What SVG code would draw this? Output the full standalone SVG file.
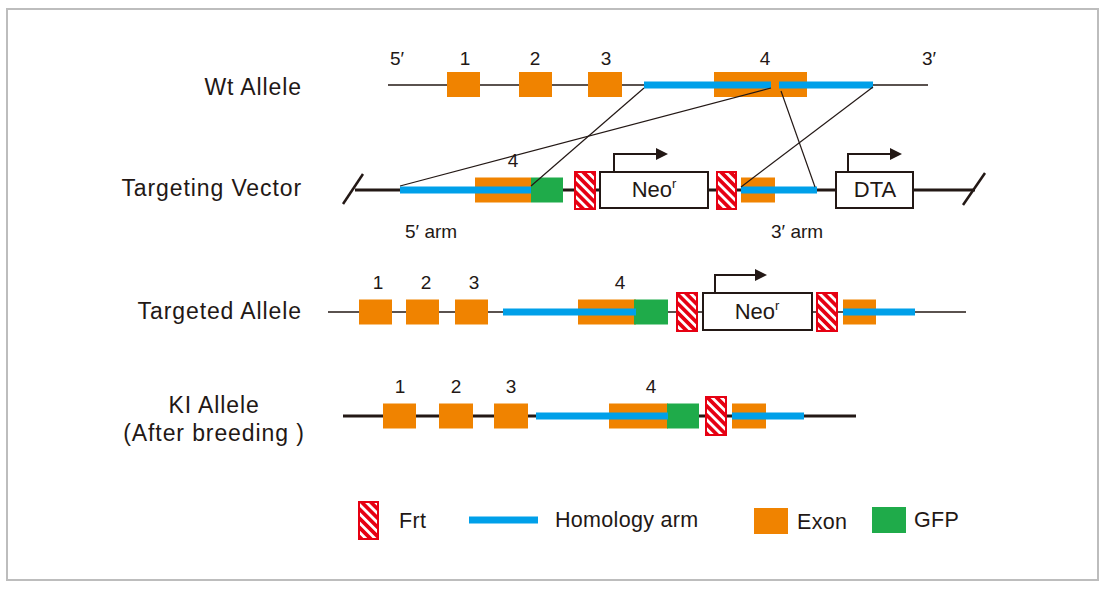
<svg xmlns="http://www.w3.org/2000/svg" width="1107" height="591" viewBox="0 0 1107 591">
<style>
.t{font-family:"Liberation Sans",Arial,sans-serif;fill:#231815}
.lbl{font-size:23px;letter-spacing:0.9px;text-anchor:end}
.num{font-size:19px;text-anchor:middle}
.leg{font-size:21.5px;letter-spacing:0.3px}
.ex{fill:#f08300}
.gfp{fill:#1fab4a}
.arm{fill:#00a0e9}
.frt{fill:url(#hatch);stroke:#e60012;stroke-width:2}
.thin{stroke:#231815;stroke-width:1.5;fill:none}
.thick{stroke:#231815;stroke-width:3;fill:none}
.box{fill:#fff;stroke:#231815;stroke-width:2}
.prom{fill:none;stroke:#231815;stroke-width:2}
.conn{stroke:#231815;stroke-width:1.2;fill:none}
</style>
<defs>
<pattern id="hatch" patternUnits="userSpaceOnUse" width="6.5" height="6.5" patternTransform="rotate(-45)">
<rect width="6.5" height="6.5" fill="#e60012"/>
<rect width="2.8" height="6.5" fill="#fff"/>
</pattern>
</defs>
<rect x="0" y="0" width="1107" height="591" fill="#fff"/>
<rect x="7" y="9" width="1091" height="571" fill="#fff" stroke="#bdbdbd" stroke-width="2"/>

<g id="row-labels">
<text class="t lbl" x="302" y="95">Wt Allele</text>
<text class="t lbl" x="302" y="196">Targeting Vector</text>
<text class="t lbl" x="302" y="319">Targeted Allele</text>
<text class="t lbl" x="214" y="413" style="text-anchor:middle">KI Allele</text>
<text class="t lbl" x="214" y="441" style="text-anchor:middle">(After breeding )</text>
</g>

<g id="wt-allele">
<line class="thin" x1="388" y1="85" x2="928" y2="85"/>
<rect class="ex" x="447" y="72" width="33" height="25"/>
<rect class="ex" x="519" y="72" width="33" height="25"/>
<rect class="ex" x="588" y="72" width="34" height="25"/>
<rect class="ex" x="714" y="72" width="93" height="25"/>
<rect class="arm" x="644" y="81.5" width="127" height="7"/>
<rect class="arm" x="779" y="81.5" width="94" height="7"/>
<text class="t num" x="397" y="65">5′</text>
<text class="t num" x="465" y="65">1</text>
<text class="t num" x="535" y="65">2</text>
<text class="t num" x="606" y="65">3</text>
<text class="t num" x="765" y="65">4</text>
<text class="t num" x="929" y="65">3′</text>
</g>

<g id="targeting-vector">
<line class="thick" x1="355" y1="190" x2="975" y2="190"/>
<line x1="343" y1="204" x2="363" y2="174" stroke="#231815" stroke-width="2.5"/>
<line x1="963" y1="205" x2="985" y2="173" stroke="#231815" stroke-width="2.5"/>
<rect class="ex" x="475" y="177.5" width="56" height="25"/>
<rect class="gfp" x="531" y="177.5" width="32" height="25"/>
<rect class="arm" x="400" y="186.5" width="131" height="7"/>
<rect class="frt" x="575" y="172" width="20" height="37"/>
<rect class="box" x="600" y="172" width="108" height="36"/>
<path class="prom" d="M614 172V154H658"/>
<polygon points="656,148 668,154 656,160" fill="#231815"/>
<text class="t" x="654" y="197" style="font-size:22px;text-anchor:middle">Neo<tspan style="font-size:13px" dy="-9">r</tspan></text>
<rect class="frt" x="717" y="172" width="19" height="37"/>
<rect class="ex" x="741" y="177.5" width="34" height="25"/>
<rect class="arm" x="741" y="186.5" width="76" height="7"/>
<rect class="box" x="836" y="172" width="77" height="36"/>
<path class="prom" d="M848 172V154H892"/>
<polygon points="890,148 902,154 890,160" fill="#231815"/>
<text class="t" x="875" y="197" style="font-size:22px;text-anchor:middle">DTA</text>
<text class="t num" x="513" y="167">4</text>
<text class="t" x="405" y="238" style="font-size:19px">5′ arm</text>
<text class="t" x="771" y="238" style="font-size:19px">3′ arm</text>
</g>

<g id="connectors">
<line class="conn" x1="644" y1="88" x2="531" y2="186"/>
<line class="conn" x1="771" y1="88" x2="400" y2="186"/>
<line class="conn" x1="781" y1="91" x2="815" y2="187"/>
<line class="conn" x1="873" y1="87" x2="741" y2="187"/>
</g>

<g id="targeted-allele">
<line class="thin" x1="328" y1="312" x2="966" y2="312"/>
<rect class="ex" x="359" y="299.5" width="33" height="25"/>
<rect class="ex" x="406" y="299.5" width="33" height="25"/>
<rect class="ex" x="455" y="299.5" width="33" height="25"/>
<rect class="ex" x="578" y="299.5" width="58" height="25"/>
<rect class="gfp" x="634" y="299.5" width="34" height="25"/>
<rect class="arm" x="503" y="308.5" width="133" height="7"/>
<rect class="frt" x="677" y="293" width="20" height="38"/>
<rect class="box" x="703" y="293" width="109" height="37"/>
<path class="prom" d="M715 293V275H757"/>
<polygon points="755,269 767,275 755,281" fill="#231815"/>
<text class="t" x="757" y="319" style="font-size:22px;text-anchor:middle">Neo<tspan style="font-size:13px" dy="-9">r</tspan></text>
<rect class="frt" x="817" y="293" width="20" height="38"/>
<rect class="ex" x="843" y="299.5" width="33" height="25"/>
<rect class="arm" x="843" y="308.5" width="72" height="7"/>
<text class="t num" x="378" y="289">1</text>
<text class="t num" x="426" y="289">2</text>
<text class="t num" x="474" y="289">3</text>
<text class="t num" x="620" y="289">4</text>
</g>

<g id="ki-allele">
<line class="thick" x1="343" y1="416" x2="856" y2="416"/>
<rect class="ex" x="383" y="403.5" width="33" height="25"/>
<rect class="ex" x="439" y="403.5" width="34" height="25"/>
<rect class="ex" x="494" y="403.5" width="34" height="25"/>
<rect class="ex" x="609" y="403.5" width="59" height="25"/>
<rect class="gfp" x="667" y="403.5" width="32" height="25"/>
<rect class="arm" x="536" y="412.5" width="132" height="7"/>
<rect class="frt" x="706" y="397" width="20" height="38"/>
<rect class="ex" x="732" y="403.5" width="34" height="25"/>
<rect class="arm" x="732" y="412.5" width="72" height="7"/>
<text class="t num" x="400" y="393">1</text>
<text class="t num" x="456" y="393">2</text>
<text class="t num" x="511" y="393">3</text>
<text class="t num" x="651" y="393">4</text>
</g>

<g id="legend">
<rect class="frt" x="359" y="502" width="19" height="37"/>
<text class="t leg" x="399" y="528">Frt</text>
<rect class="arm" x="469" y="516.5" width="69" height="7"/>
<text class="t leg" x="555" y="527">Homology arm</text>
<rect class="ex" x="754" y="508" width="34" height="26"/>
<text class="t leg" x="797" y="529">Exon</text>
<rect class="gfp" x="872" y="507" width="34" height="26"/>
<text class="t leg" x="914" y="527">GFP</text>
</g>
</svg>
